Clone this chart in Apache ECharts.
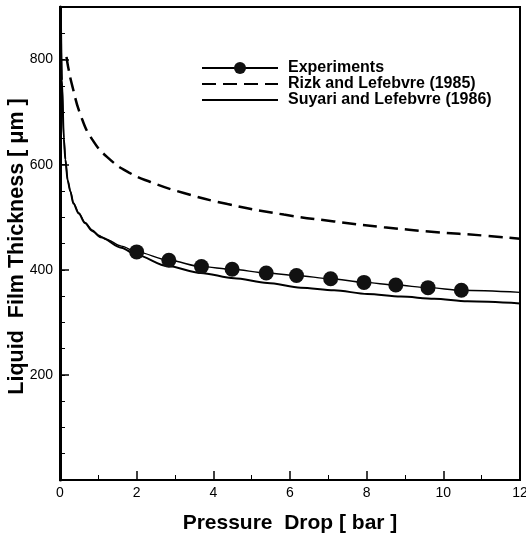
<!DOCTYPE html>
<html>
<head>
<meta charset="utf-8">
<script src="https://cdn.jsdelivr.net/npm/echarts@6/dist/echarts.min.js"></script>
<style>html,body{margin:0;padding:0;background:#fff}#c{width:526px;height:540px}</style>
</head>
<body>
<div id="c"></div>
<script>
// Experiments: measured points
var expX = [2.0, 2.84, 3.69, 4.49, 5.38, 6.17, 7.06, 7.93, 8.76, 9.6, 10.47];
var expY = [434, 418, 406, 401, 394, 389, 383, 376, 371, 366, 361];
// Curve drawn through the experiments (outside the measured range)
var expCurveX = [0.02, 0.05, 0.1, 0.14, 0.2, 0.27, 0.35, 0.49, 0.65, 0.84, 1.0, 1.2, 1.6, 12];
var expCurveY = [900, 760, 650, 610, 570, 550, 527, 508, 490, 476, 466, 458, 445, 357];
// Rizk and Lefebvre (1985)
var rizkX = [0.17, 0.21, 0.32, 0.54, 0.84, 1.27, 1.8, 2.36, 3.23, 4.37, 5.84, 7.15, 8.45, 9.76, 11.07, 12];
var rizkY = [805, 787, 750, 694, 648, 612, 585, 567, 546, 525, 505, 492, 481, 472, 465, 459];
// Suyari and Lefebvre (1986)
var suyX = [0.02, 0.05, 0.1, 0.14, 0.2, 0.27, 0.35, 0.49, 0.65, 0.84, 1.06, 1.6, 2.0, 2.8, 3.67, 4.54, 5.41, 6.28, 7.15, 8.02, 8.89, 9.76, 10.63, 12];
var suyY = [900, 760, 650, 610, 570, 549, 526, 507, 489, 474, 462, 442, 428, 407, 394, 384, 375, 366, 361, 354, 349, 345, 340, 336];
var xTicks = [0, 2, 4, 6, 8, 10, 12];
var yTicks = [200, 400, 600, 800];

function pairs(xs, ys) { return xs.map(function (x, i) { return [x, ys[i]]; }); }

var expData = [];
expCurveX.forEach(function (x, i) { expData.push({ value: [x, expCurveY[i]], symbol: 'none' }); });
expX.forEach(function (x, i) { expData.push({ value: [x, expY[i]] }); });
expData.sort(function (a, b) { return a.value[0] - b.value[0]; });

var font = 'Liberation Sans, Arial, Helvetica, sans-serif';
var chart = echarts.init(document.getElementById('c'), null, { renderer: 'canvas' });
chart.setOption({
  animation: false,
  backgroundColor: '#fff',
  grid: { left: 60, right: 6, top: 7, bottom: 60, show: true, borderColor: '#000', borderWidth: 2,
          outerBoundsMode: 'none', containLabel: false },
  legend: {
    orient: 'vertical', left: 196, top: 55, itemWidth: 76, itemHeight: 15, itemGap: 0,
    textStyle: { fontFamily: font, fontWeight: 'bold', fontSize: 16, lineHeight: 16, color: '#000', padding: [0, 0, 0, 5] },
    data: [
      { name: 'Experiments' },
      { name: 'Rizk and Lefebvre (1985)', itemStyle: { opacity: 0 } },
      { name: 'Suyari and Lefebvre (1986)', itemStyle: { opacity: 0 } }
    ]
  },
  xAxis: {
    type: 'value', min: 0, max: 12, interval: 2,
    name: 'Pressure  Drop [ bar ]', nameLocation: 'middle', nameGap: 33, nameMoveOverlap: false,
    nameTextStyle: { fontFamily: font, fontWeight: 'bold', fontSize: 21, color: '#000' },
    axisLine: { lineStyle: { color: '#000', width: 2 } },
    axisTick: { inside: true, length: 9, lineStyle: { color: '#000', width: 1.5 } },
    minorTick: { show: true, splitNumber: 2, length: 5, lineStyle: { color: '#000', width: 1 } },
    splitLine: { show: false },
    axisLabel: { fontFamily: font, fontSize: 14, color: '#000', margin: 6,
      formatter: function (v) { return xTicks.indexOf(v) >= 0 ? String(v) : ''; } }
  },
  yAxis: [{
    type: 'value', min: 0, max: 900, interval: 200,
    name: 'Liquid  Film Thickness [ μm ]', nameLocation: 'middle', nameGap: 32, nameMoveOverlap: false,
    nameTextStyle: { fontFamily: font, fontWeight: 'bold', fontSize: 21.5, color: '#000', padding: [0, 6, 0, 0] },
    axisLine: { show: true, lineStyle: { color: '#000', width: 3 } },
    axisTick: { show: true, inside: true, length: 9, lineStyle: { color: '#000', width: 1.5 } },
    splitLine: { show: false },
    axisLabel: { fontFamily: font, fontSize: 14, color: '#000', margin: 7,
      formatter: function (v) { return yTicks.indexOf(v) >= 0 ? String(v) : ''; } }
  }, {
    type: 'value', min: 0, max: 900, interval: 50, position: 'left',
    axisLine: { show: false },
    axisTick: { show: true, inside: true, length: 5, lineStyle: { color: '#000', width: 1 } },
    axisLabel: { show: false }, splitLine: { show: false }
  }],
  series: [
    {
      name: 'Experiments', type: 'line', data: expData, symbol: 'circle', symbolSize: 15,
      showAllSymbol: true, itemStyle: { color: '#111' }, smooth: 0.3, smoothMonotone: 'x',
      lineStyle: { color: '#000', width: 1.4 }, z: 5
    },
    {
      name: 'Rizk and Lefebvre (1985)', type: 'line', data: pairs(rizkX, rizkY), symbol: 'none',
      itemStyle: { color: '#000' },
      lineStyle: { color: '#000', width: 2.5, type: [14, 7] }, smooth: 0.5
    },
    {
      name: 'Suyari and Lefebvre (1986)', type: 'line', data: pairs(suyX, suyY), symbol: 'none',
      itemStyle: { color: '#000' }, smooth: 0.3, smoothMonotone: 'x',
      lineStyle: { color: '#000', width: 2 }
    },
    { type: 'line', yAxisIndex: 1, data: [] }
  ]
});
</script>
</body>
</html>
